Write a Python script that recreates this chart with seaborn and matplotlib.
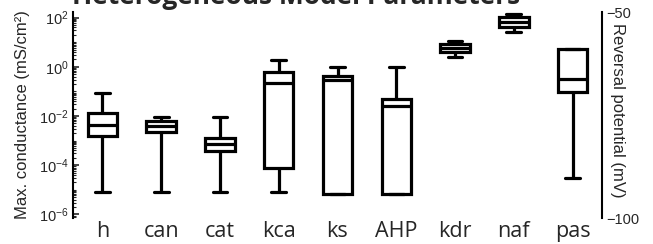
import numpy as np
import pandas as pd
import matplotlib
matplotlib.use("Agg")
import matplotlib.pyplot as plt
import matplotlib.ticker as mticker
import seaborn as sns

channels = ["h", "can", "cat", "kca", "ks", "AHP", "kdr", "naf", "pas"]

# five-number summaries: min, q1, median, q3, max
# max. conductance in mS/cm^2 (left axis)
h_vals = [8e-6, 0.0015, 0.0043, 0.013, 0.085]
can_vals = [8e-6, 0.0022, 0.0039, 0.0063, 0.0091]
cat_vals = [8e-6, 3.8e-4, 7.3e-4, 0.0013, 0.0091]
kca_vals = [8e-6, 7.7e-5, 0.22, 0.62, 1.9]
ks_vals = [7e-6, 7e-6, 0.29, 0.43, 0.98]
ahp_vals = [7e-6, 7e-6, 0.026, 0.049, 0.98]
kdr_vals = [2.5, 4.0, 5.8, 8.5, 11.2]
naf_vals = [26, 42, 66, 106, 141]
# reversal potential of pas in mV (right axis)
pas_vals = [-90.3, -69.4, -66.3, -59.0, -59.0]

cond = pd.DataFrame({
    "channel": np.repeat(channels[:8], 5),
    "value": np.concatenate([h_vals, can_vals, cat_vals, kca_vals,
                             ks_vals, ahp_vals, kdr_vals, naf_vals]),
})
rev = pd.DataFrame({"channel": ["pas"] * 5, "value": pas_vals})

sns.set_style("white")
plt.rcParams["font.family"] = ["Liberation Sans", "DejaVu Sans"]

fig = plt.figure(figsize=(6.53, 2.44), dpi=100)
ax = fig.add_axes([73 / 653, 1 - 218 / 244, 529 / 653, 206 / 244])
ax.set_yscale("log")

box_kw = dict(order=channels, width=0.5, whis=(0, 100), showfliers=False,
              color="white", linecolor="black", linewidth=2.3)
sns.boxplot(data=cond, x="channel", y="value", ax=ax, **box_kw)

ax2 = ax.twinx()
sns.boxplot(data=rev, x="channel", y="value", ax=ax2, **box_kw)

ax.set_xlim(-0.5, 8.5)
ax.set_ylim(10 ** -6.146, 10 ** 2.228)
ax2.set_ylim(-100, -50)

ax.set_yticks([1e-6, 1e-4, 1e-2, 1e0, 1e2])
ax.yaxis.set_minor_locator(mticker.LogLocator(base=10, subs=np.arange(1, 10), numticks=30))
ax.yaxis.set_minor_formatter(mticker.NullFormatter())
ax.tick_params(axis="y", which="major", direction="in", length=4, width=1.2,
               labelsize=10.5, pad=3)
ax.tick_params(axis="y", which="minor", direction="in", length=2, width=0.8)
ax.tick_params(axis="x", length=0, labelsize=15.5, pad=2)
for lbl in ax.get_xticklabels():
    lbl.set_fontfamily("Open Sans")

ax2.set_yticks([-100, -50])
ax2.tick_params(axis="y", length=0, labelsize=10.5, pad=3)

for a in (ax, ax2):
    a.set_xlabel("")
    a.set_ylabel("")
    for side in ("top", "bottom"):
        a.spines[side].set_visible(False)
    for sp in a.spines.values():
        sp.set_linewidth(1.5)
        sp.set_color("black")
ax.spines["right"].set_visible(False)
ax2.spines["left"].set_visible(False)

fig.text(23 / 653, 1 - 115 / 244, "Max. conductance (mS/cm²)", rotation=90,
         ha="center", va="center", fontsize=12)
fig.text(618 / 653, 1 - 110 / 244, "Reversal potential (mV)", rotation=270,
         ha="center", va="center", fontsize=12)
# the title sits mostly above the top edge, as in the source figure
fig.text(296 / 653, 1 - 4 / 244, "Heterogeneous Model Parameters",
         ha="center", va="baseline", fontsize=19, fontweight="bold",
         family="Open Sans")

fig.savefig("out.png", dpi=100)
